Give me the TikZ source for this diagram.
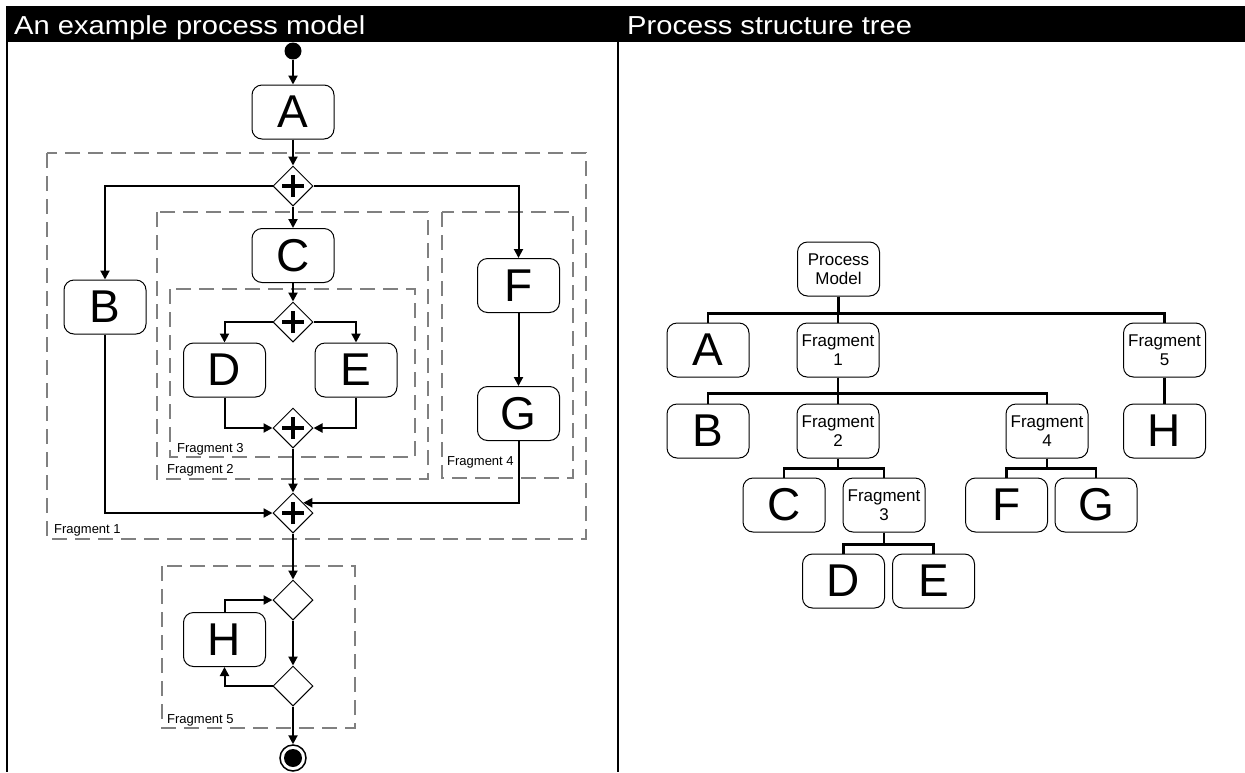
\documentclass[tikz,border=0pt]{standalone}
\usepackage{fontspec}
\setmainfont{Liberation Sans}
\newfontfamily\headfont[FakeStretch = 1.12]{Liberation Sans}
\usetikzlibrary{shapes.geometric, arrows.meta}

\tikzset{
	task/.style = {draw, line width = 1pt, rounded corners = 10pt, minimum width = 82pt, minimum height = 54pt, inner sep = 0pt, font = \fontsize{46}{46}\selectfont},
	frag/.style = {task, font = \fontsize{17}{19}\selectfont, align = center},
	gate/.style = {draw, line width = 1pt, diamond, minimum width = 40pt, minimum height = 40pt, inner sep = 0pt},
	andgate/.style = {gate, path picture = {
		\draw[line width = 4pt] ([xshift = -11pt]path picture bounding box.center) -- ([xshift = 11pt]path picture bounding box.center)
			([yshift = -11pt]path picture bounding box.center) -- ([yshift = 11pt]path picture bounding box.center);}},
	region/.style = {draw = gray, line width = 2pt, dash pattern = on 15pt off 8pt},
	regionlabel/.style = {anchor = base west, inner sep = 0pt, font = \fontsize{13}{13}\selectfont},
	header/.style = {anchor = base west, inner sep = 0pt, text = white, font = \headfont\fontsize{26}{26}\selectfont},
	flow/.style = {line width = 2pt, -{Triangle[length = 9pt, width = 9pt]}},
	branch/.style = {line width = 2.5pt}
}

\begin{document}
\begin{tikzpicture}[x = 1pt, y = -1pt]
	\useasboundingbox (0,0) rectangle (1245,772);
	% header and frame
	\fill (6,6) rectangle (1245,42);
	\node[header] (title1) at (14,34) {An example process model};
	\node[header] (title2) at (627,34) {Process structure tree};
	\draw[line width = 2pt] (7,42) -- (7,772);
	\draw[line width = 2pt] (618,42) -- (618,772);

	% fragments
	\draw[region] (47,153) rectangle (586,539);
	\draw[region] (157,212) rectangle (428,479);
	\draw[region] (170,289) rectangle (415,457);
	\draw[region] (442,212) rectangle (573,478);
	\draw[region] (162,566) rectangle (355,728);
	\node[regionlabel] (frag1) at (54,533) {Fragment 1};
	\node[regionlabel] (frag2) at (167,473) {Fragment 2};
	\node[regionlabel] (frag3) at (177,452) {Fragment 3};
	\node[regionlabel] (frag4) at (447,465) {Fragment 4};
	\node[regionlabel] (frag5) at (167,723) {Fragment 5};

	% process model
	\node[circle, fill, minimum size = 17pt, inner sep = 0pt] (start) at (293,51) {};
	\node[task] (A) at (293,112) {A};
	\node[andgate] (p1) at (293,186) {};
	\node[task] (B) at (105,307) {B};
	\node[task] (C) at (293,255.5) {C};
	\node[task] (F) at (518.5,285.5) {F};
	\node[andgate] (p2) at (293,322) {};
	\node[task] (D) at (224.5,370) {D};
	\node[task] (E) at (356,370) {E};
	\node[andgate] (p3) at (293,428) {};
	\node[task] (G) at (518.5,413.5) {G};
	\node[andgate] (p4) at (293,513) {};
	\node[gate] (x1) at (293,600) {};
	\node[task] (H) at (224.5,639.5) {H};
	\node[gate] (x2) at (293,686) {};
	\node[circle, draw, line width = 1.5pt, minimum size = 26pt, inner sep = 0pt] (stop) at (293,758) {};
	\node[circle, fill, minimum size = 18pt, inner sep = 0pt] (stopdot) at (stop) {};

	\draw[flow] (start) -- (A);
	\draw[flow] (A) -- (p1);
	\draw[flow] (p1) -- (C);
	\draw[flow] (p1.west) -| (B.north);
	\draw[flow] (p1.east) -| (F.north);
	\draw[flow] (C) -- (p2);
	\draw[flow] (p2.west) -| (D.north);
	\draw[flow] (p2.east) -| (E.north);
	\draw[flow] (D.south) |- (p3.west);
	\draw[flow] (E.south) |- (p3.east);
	\draw[flow] (F) -- (G);
	\draw[flow] (p3) -- (p4);
	\draw[flow] (B.south) |- (p4.west);
	\draw[flow] (G.south) |- (p4.north east);
	\draw[flow] (p4) -- (x1);
	\draw[flow] (x1) -- (x2);
	\draw[flow] (H.north) |- (x1.west);
	\draw[flow] (x2.west) -| (H.south);
	\draw[flow] (x2) -- (stop);

	% structure tree
	\node[frag] (pm) at (838.5,269) {Process\\Model};
	\node[task] (ta) at (708,350) {A};
	\node[frag] (f1) at (838,350) {Fragment\\1};
	\node[frag] (f5) at (1164.5,350) {Fragment\\5};
	\node[task] (tb) at (708,431) {B};
	\node[frag] (f2) at (838,431) {Fragment\\2};
	\node[frag] (f4) at (1047,431) {Fragment\\4};
	\node[task] (th) at (1164.5,431) {H};
	\node[task] (tc) at (784,505) {C};
	\node[frag] (f3) at (884,505) {Fragment\\3};
	\node[task] (tf) at (1006.5,505) {F};
	\node[task] (tg) at (1096,505) {G};
	\node[task] (td) at (843.5,581) {D};
	\node[task] (te) at (933.5,581) {E};

	\foreach \p/\c/\d in {pm/ta/17, pm/f1/17, pm/f5/17, f1/tb/16, f1/f2/16, f1/f4/16, f5/th/13,
		f2/tc/10, f2/f3/10, f4/tf/10, f4/tg/10, f3/td/12, f3/te/12}
		\draw[branch] (\p.south) -- ++(0,\d) -| (\c.north);
\end{tikzpicture}
\end{document}
